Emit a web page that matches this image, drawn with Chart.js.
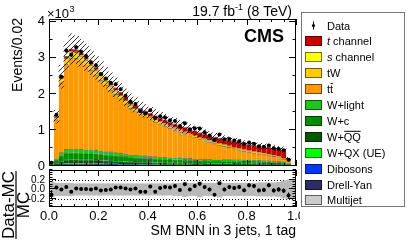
<!DOCTYPE html>
<html><head><meta charset="utf-8">
<script src="https://cdn.jsdelivr.net/npm/chart.js@4.4.1/dist/chart.umd.min.js"></script>
<style>
html,body{margin:0;padding:0;background:#fff;width:407px;height:248px;overflow:hidden}
#wrap{position:relative;width:407px;height:248px}
canvas{position:absolute}
</style></head><body>
<div id="wrap">
<canvas id="main" width="407" height="248" style="left:0;top:0"></canvas>
<canvas id="ratio" width="300" height="82" style="left:0;top:166px"></canvas>
</div>
<script>
// ---------------- data ----------------
const binCenters = [0.01,0.03,0.05,0.07,0.09,0.11,0.13,0.15,0.17,0.19,0.21,0.23,0.25,0.27,0.29,0.31,0.33,0.35,0.37,0.39,0.41,0.43,0.45,0.47,0.49,0.51,0.53,0.55,0.57,0.59,0.61,0.63,0.65,0.67,0.69,0.71,0.73,0.75,0.77,0.79,0.81,0.83,0.85,0.87,0.89,0.91,0.93,0.95,0.97,0.99];

const multijet = [2,8,15,18,19,19,18,18,18,18,17,16,16,15,14,13,12,12,12,11,11,10,10,10,9,9,9,9,8,8,8,8,7,7,7,7,7,7,7,7,7,6,6,6,6,6,5,4,3,0];
const drellYan = [2,12,22,28,28,28,28,27,27,26,25,24,23,22,21,20,19,18,17,17,16,16,15,14,14,14,14,13,13,12,12,11,11,11,11,11,11,10,10,10,10,10,10,9,9,8,8,7,4,0];
const dibosons = [1,4,7,9,9,9,9,9,9,9,8,8,8,7,7,7,6,6,6,6,5,5,5,5,5,5,5,4,4,4,4,4,4,4,4,4,4,3,3,3,3,3,3,3,3,3,3,2,1,0];
const wQX = [2,8,15,18,19,19,18,18,18,18,17,16,16,15,14,13,12,12,12,11,11,10,10,10,9,9,9,9,8,8,8,8,7,7,7,7,7,7,7,7,7,6,6,6,6,6,5,4,3,0];
const wQQ = [9,44,81,101,103,103,101,99,99,97,92,88,86,81,77,73,68,66,64,62,59,57,55,53,52,51,50,47,46,44,43,42,41,40,40,39,39,37,37,36,36,35,35,33,33,31,29,24,15,1];
const wc = [16,80,148,184,188,188,184,180,180,176,168,160,156,148,140,132,124,120,116,112,108,104,100,96,94,92,90,86,84,80,78,76,74,72,72,70,70,68,68,66,66,64,64,60,60,56,52,44,28,2];
const wLight = [8,44,82,102,104,104,102,99,99,96,93,88,85,82,77,72,69,66,63,61,60,58,55,52,52,50,48,47,47,44,42,41,41,39,39,37,37,38,38,36,36,36,36,33,33,30,28,25,16,2];
const ttbar = [55,1080,1935,2366,2534,2517,2440,2340,2204,2084,1968,1847,1720,1616,1512,1396,1299,1213,1136,1078,1018,969,919,869,815,770,724,682,635,603,555,517,479,441,403,375,341,312,279,250,221,202,178,164,140,126,107,80,96,3];
const tW = [3,70,130,160,170,165,160,150,145,135,130,120,115,108,100,95,90,85,80,76,72,69,66,63,60,57,54,52,50,48,46,44,42,40,38,36,35,34,32,31,30,29,28,27,26,25,24,22,10,1];
const sChannel = [0,5,10,14,16,16,16,15,15,14,14,13,13,12,12,11,11,10,10,10,10,10,10,10,10,9,9,9,9,9,9,9,9,9,9,9,9,9,9,9,9,9,9,9,9,9,9,8,4,0];
const tChannel = [2,15,35,50,60,62,64,65,66,67,68,70,72,74,76,78,80,82,84,86,90,92,95,98,100,104,108,112,116,120,125,130,135,140,145,150,155,160,165,170,175,180,185,190,195,200,205,230,20,1];

const dataCounts = [89,1425,2480,3203,3088,3295,3171,3050,2880,2795,2548,2426,2310,2267,2132,1948,1790,1724,1520,1454,1548,1330,1380,1344,1269,1252,1109,1188,1020,1049,1042,935,850,721,876,745,751,706,688,613,654,621,549,535,567,490,475,437,174,null];

const mcRelUnc = [0.15,0.13,0.13,0.13,0.13,0.12,0.12,0.12,0.12,0.12,0.12,0.12,0.12,0.12,0.12,0.12,0.12,0.12,0.12,0.12,0.12,0.12,0.12,0.12,0.12,0.13,0.13,0.15,0.13,0.13,0.16,0.13,0.13,0.13,0.16,0.13,0.13,0.13,0.13,0.13,0.13,0.13,0.14,0.14,0.14,0.14,0.15,0.18,0.2,0.2];

const seriesNames = ['Multijet','Drell-Yan','Dibosons','W+QX (UE)','W+Q\u0305Q\u0305','W+c','W+light','tt\u0304','tW','s channel','t channel'];
const seriesColors = ['#cccccc','#2e2e66','#0038ff','#00ff00','#005c00','#008e00','#1fc41f','#ff9900','#ffcc00','#ffff00','#cc0000'];
const seriesValues = [multijet,drellYan,dibosons,wQX,wQQ,wc,wLight,ttbar,tW,sChannel,tChannel];

const xTickValues = [0,0.2,0.4,0.6,0.8,1.0];
const xMinorValues = [0.05,0.1,0.15,0.25,0.3,0.35,0.45,0.5,0.55,0.65,0.7,0.75,0.85,0.9,0.95];
const yMainTicks = [0,1000,2000,3000,4000];
const yMainMinor = [500,1500,2500,3500];
const yRatioTicks = [-0.2,0,0.2];
const yRatioMinor = [-0.35,-0.3,-0.25,-0.15,-0.1,-0.05,0.05,0.1,0.15,0.25,0.3,0.35,0.4];

const xTitle = 'SM BNN in 3 jets, 1 tag';
const yTitle = 'Events/0.02';
const lumiText = ['19.7 fb','-1',' (8 TeV)'];

// legend (top to bottom)
const legendItems = [
  {kind:'data', parts:[{t:'Data'}]},
  {series:10, parts:[{t:'t',it:1},{t:' channel'}]},
  {series:9, parts:[{t:'s',it:1},{t:' channel'}]},
  {series:8, parts:[{t:'tW'}]},
  {series:7, parts:[{t:'t'},{t:'t',bar:1}]},
  {series:6, parts:[{t:'W+light'}]},
  {series:5, parts:[{t:'W+c'}]},
  {series:4, parts:[{t:'W+'},{t:'QQ',bar:1}]},
  {series:3, parts:[{t:'W+QX (UE)'}]},
  {series:2, parts:[{t:'Dibosons'}]},
  {series:1, parts:[{t:'Drell-Yan'}]},
  {series:0, parts:[{t:'Multijet'}]}
];

// ---------------- derived ----------------
const FONT = '"Liberation Sans", Arial, Helvetica, sans-serif';
Chart.defaults.font.family = FONT;
Chart.defaults.color = '#000';

const mcTotal = binCenters.map((_, i) => seriesValues.reduce((s, a) => s + a[i], 0));
const xy = vals => binCenters.map((x, i) => ({x, y: vals[i]}));

function makeHatch() {
  const pc = document.createElement('canvas');
  pc.width = 5; pc.height = 5;
  const p = pc.getContext('2d');
  p.strokeStyle = 'rgba(0,0,0,0.85)';
  p.lineWidth = 0.9;
  p.beginPath();
  p.moveTo(-1, 6); p.lineTo(6, -1);
  p.moveTo(-1, 1); p.lineTo(1, -1);
  p.moveTo(4, 6); p.lineTo(6, 4);
  p.stroke();
  return document.getElementById('main').getContext('2d').createPattern(pc, 'repeat');
}

function drawTicks(ctx, chart, xs, xsMinor, ys, ysMinor, xl, yl) {
  const a = chart.chartArea, sx = chart.scales.x, sy = chart.scales.y;
  ctx.save();
  ctx.strokeStyle = '#000'; ctx.lineWidth = 1;
  ctx.beginPath();
  const vx = (v, L) => {
    const p = Math.round(sx.getPixelForValue(v)) + 0.5;
    ctx.moveTo(p, a.bottom); ctx.lineTo(p, a.bottom - L);
    ctx.moveTo(p, a.top); ctx.lineTo(p, a.top + L);
  };
  const vy = (v, L) => {
    const p = Math.round(sy.getPixelForValue(v)) - 0.5;
    ctx.moveTo(a.left, p); ctx.lineTo(a.left + L, p);
    ctx.moveTo(a.right, p); ctx.lineTo(a.right - L, p);
  };
  xs.forEach(v => vx(v, xl)); xsMinor.forEach(v => vx(v, xl / 2));
  ys.forEach(v => vy(v, yl)); ysMinor.forEach(v => vy(v, yl / 2));
  ctx.stroke();
  ctx.strokeRect(a.left + 0.5, a.top + 0.5, a.right - a.left - 1, a.bottom - a.top - 1);
  ctx.restore();
}

const mainDecor = {
  id: 'mainDecor',
  afterDraw(chart) {
    const ctx = chart.ctx;
    drawTicks(ctx, chart, xTickValues, xMinorValues, yMainTicks, yMainMinor, 6, 7);
    ctx.save();
    ctx.fillStyle = '#000';
    // x10^3
    ctx.textAlign = 'left'; ctx.textBaseline = 'alphabetic';
    ctx.font = '13px ' + FONT;
    ctx.fillText('\u00d710', 47, 18);
    const w10 = ctx.measureText('\u00d710').width;
    ctx.font = '9px ' + FONT;
    ctx.fillText('3', 47 + w10 + 0.5, 12);
    // lumi
    ctx.font = '14px ' + FONT;
    const wA = ctx.measureText(lumiText[0]).width, wC = ctx.measureText(lumiText[2]).width;
    ctx.font = '9px ' + FONT;
    const wB = ctx.measureText(lumiText[1]).width;
    let lx = 292 - wA - wB - wC;
    ctx.font = '14px ' + FONT; ctx.fillText(lumiText[0], lx, 16); lx += wA;
    ctx.font = '9px ' + FONT; ctx.fillText(lumiText[1], lx, 10); lx += wB;
    ctx.font = '14px ' + FONT; ctx.fillText(lumiText[2], lx, 16);
    // CMS
    ctx.font = 'bold 18px ' + FONT; ctx.textAlign = 'right';
    ctx.fillText('CMS', 284, 42);
    // y title
    ctx.save();
    ctx.translate(21.5, 18); ctx.rotate(-Math.PI / 2);
    ctx.font = '14px ' + FONT; ctx.textAlign = 'right';
    ctx.fillText(yTitle, 0, 0);
    ctx.restore();
    // legend
    ctx.fillStyle = '#fff'; ctx.fillRect(301, 12, 104, 195);
    ctx.strokeStyle = '#777'; ctx.lineWidth = 1;
    ctx.strokeRect(301.5, 12.5, 103, 194);
    legendItems.forEach((it, i) => {
      const yc = 25.5 + i * 15.9;
      if (it.kind === 'data') {
        ctx.strokeStyle = '#000'; ctx.beginPath();
        ctx.moveTo(313.5, yc - 4); ctx.lineTo(313.5, yc + 4); ctx.stroke();
        ctx.fillStyle = '#000'; ctx.beginPath(); ctx.arc(313.5, yc, 1.6, 0, Math.PI * 2); ctx.fill();
      } else {
        ctx.fillStyle = seriesColors[it.series];
        ctx.fillRect(305, Math.round(yc - 5), 17, 10);
        ctx.strokeStyle = 'rgba(0,0,0,0.55)';
        ctx.strokeRect(305.5, Math.round(yc - 5) + 0.5, 16, 9);
      }
      let tx = 327;
      ctx.fillStyle = '#000'; ctx.textAlign = 'left';
      it.parts.forEach(p => {
        ctx.font = (p.it ? 'italic ' : '') + '11px ' + FONT;
        ctx.fillText(p.t, tx, yc + 4);
        const w = ctx.measureText(p.t).width;
        if (p.bar) {
          ctx.strokeStyle = '#000'; ctx.beginPath();
          ctx.moveTo(tx + 0.5, yc - 5.5); ctx.lineTo(tx + w - 0.3, yc - 5.5); ctx.stroke();
        }
        tx += w;
      });
    });
    ctx.restore();
  }
};

const mainDatasets = seriesValues.map((vals, k) => ({
  type: 'bar', label: seriesNames[k], data: xy(vals),
  backgroundColor: seriesColors[k], borderColor: 'rgba(0,0,0,0.5)',
  borderWidth: {top: 1, left: 0, right: 0, bottom: 0}, borderSkipped: 'start',
  grouped: false, categoryPercentage: 1, barPercentage: 1,
  stack: 'mc', yAxisID: 'y', order: 10
}));
mainDatasets.push({
  type: 'bar', label: 'MC uncertainty',
  data: binCenters.map((x, i) => ({x, y: [mcTotal[i] * (1 - mcRelUnc[i]), mcTotal[i] * (1 + mcRelUnc[i])]})),
  backgroundColor: makeHatch(), borderWidth: 0, grouped: false,
  categoryPercentage: 1, barPercentage: 1, yAxisID: 'y2', order: 5
});
mainDatasets.push({
  type: 'bar', label: 'Data stat',
  data: binCenters.map((x, i) => ({x, y: dataCounts[i] == null ? null : [dataCounts[i] - Math.sqrt(dataCounts[i]), dataCounts[i] + Math.sqrt(dataCounts[i])]})),
  backgroundColor: '#000', borderWidth: 0, grouped: false, barThickness: 1, inflateAmount: 0,
  yAxisID: 'y2', order: 2
});
mainDatasets.push({
  type: 'line', label: 'Data', data: xy(dataCounts), showLine: false,
  pointRadius: 2, pointBackgroundColor: '#000', pointBorderWidth: 0, pointHoverRadius: 0,
  yAxisID: 'y2', order: 1
});

new Chart(document.getElementById('main'), {
  type: 'bar',
  data: {datasets: mainDatasets},
  options: {
    responsive: false, animation: false, events: [],
    layout: {padding: {top: 19, right: 111, bottom: 82, left: 0}},
    plugins: {legend: {display: false}, tooltip: {enabled: false}},
    scales: {
      x: {type: 'linear', min: 0, max: 1, offset: false, display: false},
      y: {
        type: 'linear', min: 0, max: 4080, stacked: true,
        grid: {display: false, drawTicks: false}, border: {display: false},
        afterBuildTicks: s => { s.ticks = yMainTicks.map(v => ({value: v})); },
        afterFit: s => { s.width = 49; s.paddingTop = 0; s.paddingBottom = 0; },
        ticks: {callback: v => String(v / 1000), font: {size: 13}, color: '#000', padding: 4, autoSkip: false}
      },
      y2: {type: 'linear', min: 0, max: 4080, display: false, stacked: false}
    }
  },
  plugins: [mainDecor]
});

// ---------------- ratio ----------------
const ratioVals = binCenters.map((_, i) => dataCounts[i] == null ? null : (dataCounts[i] - mcTotal[i]) / mcTotal[i]);
const ratioErr = binCenters.map((_, i) => dataCounts[i] == null ? null : Math.sqrt(dataCounts[i]) / mcTotal[i]);

const ratioDecor = {
  id: 'ratioDecor',
  beforeDatasetsDraw(chart) {
    const ctx = chart.ctx, a = chart.chartArea, sy = chart.scales.y;
    ctx.save();
    ctx.strokeStyle = '#000'; ctx.lineWidth = 1; ctx.setLineDash([1, 2]);
    [0.2, -0.2].forEach(v => {
      const p = Math.round(sy.getPixelForValue(v)) + 0.5;
      ctx.beginPath(); ctx.moveTo(a.left, p); ctx.lineTo(a.right, p); ctx.stroke();
    });
    ctx.restore();
  },
  afterDraw(chart) {
    const ctx = chart.ctx;
    drawTicks(ctx, chart, xTickValues, xMinorValues, yRatioTicks, yRatioMinor, 6, 7);
    // y title as fraction
    ctx.save();
    ctx.translate(0, -166);
    ctx.fillStyle = '#000';
    ctx.font = '17px ' + FONT;
    const wNum = ctx.measureText('Data-MC').width;
    const cy = 205;
    ctx.save();
    ctx.translate(14, cy); ctx.rotate(-Math.PI / 2);
    ctx.textAlign = 'center';
    ctx.fillText('Data-MC', 0, 0);
    ctx.restore();
    ctx.save();
    ctx.translate(29, cy); ctx.rotate(-Math.PI / 2);
    ctx.textAlign = 'center';
    ctx.fillText('MC', 0, 0);
    ctx.restore();
    ctx.strokeStyle = '#000'; ctx.lineWidth = 1.2;
    ctx.beginPath(); ctx.moveTo(16, cy - wNum / 2); ctx.lineTo(16, cy + wNum / 2); ctx.stroke();
    ctx.restore();
  }
};

new Chart(document.getElementById('ratio'), {
  type: 'bar',
  data: {datasets: [
    {type: 'bar', label: 'MC uncertainty', data: binCenters.map((x, i) => ({x, y: [-mcRelUnc[i], mcRelUnc[i]]})),
     backgroundColor: '#b9b9b9', borderWidth: 0, grouped: false, categoryPercentage: 1, barPercentage: 1, order: 5},
    {type: 'bar', label: 'Data stat', data: binCenters.map((x, i) => ({x, y: ratioVals[i] == null ? null : [ratioVals[i] - ratioErr[i], ratioVals[i] + ratioErr[i]]})),
     backgroundColor: '#000', borderWidth: 0, grouped: false, barThickness: 1, inflateAmount: 0, order: 2},
    {type: 'line', label: '(Data-MC)/MC', data: xy(ratioVals), showLine: false,
     pointRadius: 2, pointBackgroundColor: '#000', pointBorderWidth: 0, order: 1}
  ]},
  options: {
    responsive: false, animation: false, events: [],
    layout: {padding: {top: 2, right: 4, bottom: 0, left: 0}},
    plugins: {legend: {display: false}, tooltip: {enabled: false}},
    scales: {
      x: {
        type: 'linear', min: 0, max: 1, offset: false,
        grid: {display: false, drawTicks: false}, border: {display: false},
        afterBuildTicks: s => { s.ticks = xTickValues.map(v => ({value: v})); },
        afterFit: s => { s.height = 41; s.paddingLeft = 0; s.paddingRight = 0; },
        ticks: {callback: v => v.toFixed(1), font: {size: 13}, color: '#000', padding: 2, maxRotation: 0, autoSkip: false},
        title: {display: true, text: xTitle, align: 'end', font: {size: 14}, color: '#000', padding: {top: 0, bottom: 8}}
      },
      y: {
        type: 'linear', min: -0.37, max: 0.41,
        grid: {display: false, drawTicks: false}, border: {display: false},
        afterBuildTicks: s => { s.ticks = yRatioTicks.map(v => ({value: v})); },
        afterFit: s => { s.width = 49; s.paddingTop = 0; s.paddingBottom = 0; },
        ticks: {callback: v => (Math.abs(v) < 1e-9 ? 0 : v).toFixed(1), font: {size: 10}, color: '#000', padding: 4, autoSkip: false}
      }
    }
  },
  plugins: [ratioDecor]
});
</script>
</body></html>
